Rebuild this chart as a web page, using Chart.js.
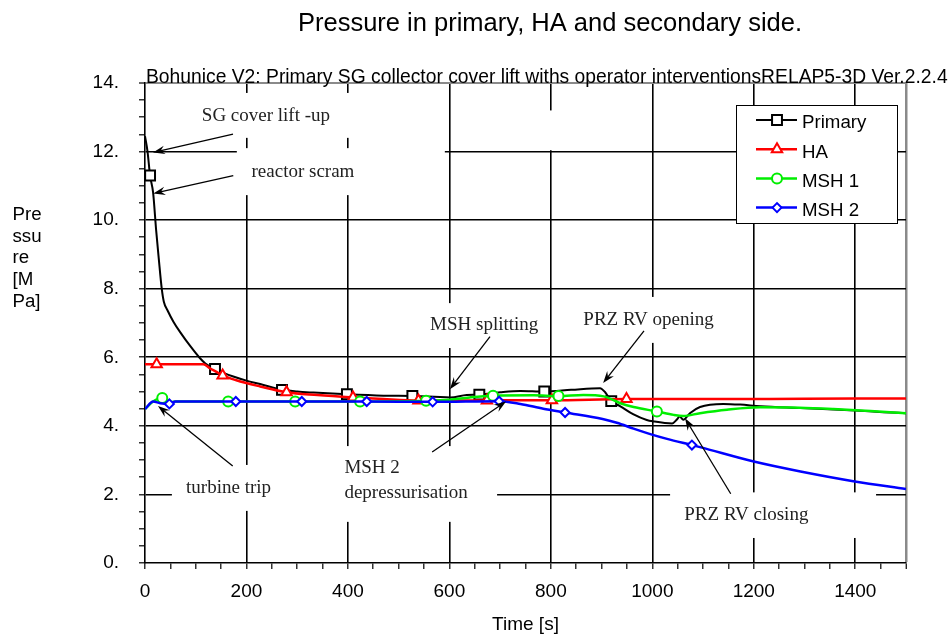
<!DOCTYPE html>
<html>
<head>
<meta charset="utf-8">
<title>Pressure in primary, HA and secondary side.</title>
<script src="https://cdn.jsdelivr.net/npm/chart.js@4.4.1/dist/chart.umd.min.js"></script>
<style>
  html, body { margin: 0; padding: 0; background: #fff; }
  #wrap { width: 951px; height: 634px; position: relative; }
</style>
</head>
<body>
<div id="wrap"><canvas id="c" width="951" height="634"></canvas></div>
<script>
// ---- Data: time [s] and pressure [MPa] for each series ----
const primaryTime = [0, 5, 10, 16, 22, 27, 33, 37, 45, 56, 70, 89, 108, 119, 138, 156, 174, 200, 227, 270, 300, 332, 398, 470, 527, 570, 602, 634, 659, 700, 740, 787, 840, 897, 907, 919, 937, 962, 989, 1002, 1039, 1048, 1054, 1061, 1074, 1094, 1140, 1173, 1213, 1292, 1400, 1455, 1500];
const primaryP    = [12.45, 12.0, 11.3, 10.8, 9.7, 8.9, 8.0, 7.63, 7.35, 7.04, 6.72, 6.33, 5.98, 5.82, 5.66, 5.54, 5.44, 5.32, 5.22, 5.05, 5.0, 4.97, 4.92, 4.88, 4.87, 4.85, 4.83, 4.9, 4.91, 4.98, 5.02, 5.0, 5.05, 5.10, 4.98, 4.72, 4.57, 4.34, 4.17, 4.13, 4.07, 4.18, 4.27, 4.18, 4.37, 4.55, 4.64, 4.62, 4.57, 4.52, 4.45, 4.40, 4.37];
const primaryMarks = [10, 138, 270, 398, 527, 659, 787, 919];

const haTime = [0, 23, 115, 128, 140, 153, 180, 227, 279, 340, 410, 470, 539, 600, 674, 740, 802, 949, 1100, 1300, 1500];
const haP    = [5.80, 5.80, 5.80, 5.68, 5.58, 5.47, 5.33, 5.15, 4.98, 4.90, 4.83, 4.78, 4.74, 4.74, 4.74, 4.75, 4.75, 4.78, 4.78, 4.79, 4.80];
const haMarks = [23, 153, 279, 410, 539, 674, 802, 949];

const msh1Time = [0, 16, 34, 48, 60, 164, 296, 424, 554, 600, 640, 686, 766, 815, 864, 904, 937, 963, 1009, 1042, 1061, 1094, 1147, 1213, 1290, 1357, 1430, 1500];
const msh1P    = [4.49, 4.71, 4.81, 4.68, 4.71, 4.71, 4.71, 4.71, 4.73, 4.76, 4.83, 4.88, 4.89, 4.87, 4.90, 4.86, 4.66, 4.55, 4.42, 4.32, 4.29, 4.37, 4.47, 4.54, 4.53, 4.49, 4.43, 4.37];
const msh1Marks = [34, 164, 296, 424, 554, 686, 815, 1009];

const msh2Time = [0, 16, 30, 48, 60, 179, 309, 437, 567, 698, 740, 785, 828, 902, 930, 963, 996, 1029, 1078, 1094, 1200, 1292, 1399, 1500];
const msh2P    = [4.49, 4.71, 4.66, 4.64, 4.71, 4.71, 4.71, 4.71, 4.70, 4.72, 4.64, 4.50, 4.39, 4.20, 4.09, 3.92, 3.76, 3.62, 3.44, 3.38, 2.96, 2.67, 2.38, 2.16];
const msh2Marks = [48, 179, 309, 437, 567, 698, 828, 1078];

const seriesNames = ['Primary', 'HA', 'MSH 1', 'MSH 2'];

// Axis ranges and tick labelling
const xMax = 1500, xMinorStep = 50, xLabelStep = 200;
const yMax = 14, yMinorStep = 0.5, yLabelStep = 2;

// Event notes: text lines, text anchor (time, pressure of first baseline), arrow tail and head
const notes = [
  { lines: ['SG cover lift -up'], t: 112, p: 12.88, from: [173.5, 12.51], to: [15.8, 11.97] },
  { lines: ['reactor scram'], t: 210, p: 11.26, from: [174, 11.30], to: [16.4, 10.78] },
  { lines: ['MSH splitting'], t: 562, p: 6.80, from: [680, 6.60], to: [601, 5.07] },
  { lines: ['PRZ RV opening'], t: 864, p: 6.95, from: [983.6, 6.77], to: [903, 5.25] },
  { lines: ['turbine trip'], t: 81, p: 2.04, from: [172.9, 2.83], to: [25.6, 4.58] },
  { lines: ['MSH 2', 'depressurisation'], t: 393, p: 2.62, from: [566, 3.24], to: [711.6, 4.71] },
  { lines: ['PRZ RV closing'], t: 1063, p: 1.26, from: [1154.5, 2.02], to: [1064.5, 4.22] }
];
// White backing boxes behind the notes: [t0, t1, pLow, pHigh]
const noteBoxes = [
  [85, 408, 12.40, 13.71],
  [181, 591, 10.73, 12.10],
  [552, 790, 6.27, 7.58],
  [848, 1143, 6.42, 7.76],
  [53, 384, 1.52, 2.86],
  [374, 694, 1.20, 3.41],
  [1035, 1441, 0.73, 2.06],
  [788, 814, 12.04, 13.2]
];

const SANS = '"Liberation Sans", Arial, Helvetica, sans-serif';
const SERIF = '"Liberation Serif", "Times New Roman", serif';

function pts(ts, ps) { return ts.map((t, i) => ({ x: t, y: ps[i] })); }
function markRadius(marks, r) {
  return c => (c.raw && marks.includes(c.raw.x)) ? r : 0;
}

const styles = [
  { color: '#000000', pointStyle: 'rect', radius: 7, width: 2, marks: primaryMarks },
  { color: '#ff0000', pointStyle: 'triangle', radius: 6, width: 2.5, marks: haMarks },
  { color: '#00ee00', pointStyle: 'circle', radius: 5, width: 2.5, marks: msh1Marks },
  { color: '#0000ff', pointStyle: 'rectRot', radius: 4.5, width: 2.5, marks: msh2Marks }
];
const seriesData = [pts(primaryTime, primaryP), pts(haTime, haP), pts(msh1Time, msh1P), pts(msh2Time, msh2P)];

const datasets = seriesData.map((d, i) => ({
  label: seriesNames[i],
  data: d,
  borderColor: styles[i].color,
  borderWidth: styles[i].width,
  backgroundColor: '#ffffff',
  pointStyle: styles[i].pointStyle,
  pointRadius: markRadius(styles[i].marks, styles[i].radius),
  pointBorderColor: styles[i].color,
  pointBackgroundColor: '#ffffff',
  pointBorderWidth: 2,
  cubicInterpolationMode: 'monotone',
  fill: false,
  order: 4 - i
}));

function arrow(ctx, x1, y1, x2, y2) {
  const a = Math.atan2(y2 - y1, x2 - x1), L = 12, W = 4.2;
  const ca = Math.cos(a), sa = Math.sin(a);
  ctx.beginPath();
  ctx.moveTo(x1, y1);
  ctx.lineTo(x2 - ca * L * 0.6, y2 - sa * L * 0.6);
  ctx.stroke();
  ctx.beginPath();
  ctx.moveTo(x2, y2);
  ctx.lineTo(x2 - L * ca + W * sa, y2 - L * sa - W * ca);
  ctx.lineTo(x2 - L * 0.65 * ca, y2 - L * 0.65 * sa);
  ctx.lineTo(x2 - L * ca - W * sa, y2 - L * sa + W * ca);
  ctx.closePath();
  ctx.fill();
}

function drawMarker(ctx, style, x, y) {
  ctx.save();
  ctx.fillStyle = '#ffffff';
  ctx.strokeStyle = style.color;
  ctx.lineWidth = 2;
  if (Chart.helpers && Chart.helpers.drawPoint) {
    Chart.helpers.drawPoint(ctx, { pointStyle: style.pointStyle, radius: style.radius, borderWidth: 2, rotation: 0 }, x, y);
  }
  ctx.restore();
}

const decorations = {
  id: 'decorations',
  beforeDatasetsDraw(chart) {
    const { ctx, scales: { x, y } } = chart;
    ctx.save();
    ctx.fillStyle = '#ffffff';
    noteBoxes.forEach(([t0, t1, p0, p1]) => {
      const X0 = x.getPixelForValue(t0), X1 = x.getPixelForValue(t1);
      const Y0 = y.getPixelForValue(p1), Y1 = y.getPixelForValue(p0);
      ctx.fillRect(X0, Y0, X1 - X0, Y1 - Y0);
    });
    ctx.restore();
  },
  afterDatasetsDraw(chart) {
    const { ctx, scales: { x, y } } = chart;
    ctx.save();
    ctx.fillStyle = '#222';
    ctx.strokeStyle = '#000';
    ctx.lineWidth = 1.3;
    ctx.font = '19px ' + SERIF;
    ctx.textAlign = 'left';
    ctx.textBaseline = 'alphabetic';
    notes.forEach(n => {
      const px = x.getPixelForValue(n.t);
      let py = y.getPixelForValue(n.p);
      n.lines.forEach((line, k) => {
        ctx.fillText(line, px, py + k * 25);
      });
      ctx.fillStyle = '#000';
      arrow(ctx, x.getPixelForValue(n.from[0]), y.getPixelForValue(n.from[1]),
                 x.getPixelForValue(n.to[0]), y.getPixelForValue(n.to[1]));
      ctx.fillStyle = '#222';
    });
    ctx.restore();
  },
  afterDraw(chart) {
    const { ctx, chartArea: a } = chart;
    ctx.save();
    ctx.fillStyle = '#000';
    ctx.textBaseline = 'alphabetic';

    // main title and run description
    ctx.font = '25.5px ' + SANS;
    ctx.textAlign = 'center';
    ctx.fillText('Pressure in primary, HA and secondary side.', 550, 31);
    ctx.font = '19.3px ' + SANS;
    ctx.textAlign = 'left';
    ctx.fillText('Bohunice V2: Primary SG collector cover lift withs operator interventionsRELAP5-3D Ver.2.2.4', a.left + 1, a.top);

    // axis titles
    ctx.font = '18.7px ' + SANS;
    ['Pre', 'ssu', 're', '[M', 'Pa]'].forEach((s, i) => ctx.fillText(s, 12.5, 220 + i * 21.7));
    ctx.textAlign = 'center';
    ctx.font = '19px ' + SANS;
    ctx.fillText('Time [s]', (a.left + a.right) / 2, 630);

    // legend
    const lx = a.right - 170, ly = a.top + 22, lw = 161, lh = 118;
    ctx.fillStyle = '#fff';
    ctx.fillRect(lx, ly, lw, lh);
    ctx.strokeStyle = '#000';
    ctx.lineWidth = 1;
    ctx.strokeRect(lx + 0.5, ly + 0.5, lw, lh);
    ctx.font = '18.7px ' + SANS;
    ctx.textAlign = 'left';
    chart.data.datasets.forEach((ds, i) => {
      const rowY = ly + 15 + i * 29.2;
      ctx.strokeStyle = ds.borderColor;
      ctx.lineWidth = ds.borderWidth;
      ctx.beginPath();
      ctx.moveTo(lx + 20, rowY);
      ctx.lineTo(lx + 61, rowY);
      ctx.stroke();
      drawMarker(ctx, styles[i], lx + 41, rowY);
      ctx.fillStyle = '#000';
      ctx.fillText(ds.label, lx + 66, rowY + 8.3);
    });
    ctx.restore();
  }
};

const isMultiple = (v, step) => Math.abs(v / step - Math.round(v / step)) < 1e-6;

new Chart(document.getElementById('c'), {
  type: 'line',
  data: { datasets },
  plugins: [decorations],
  options: {
    responsive: false,
    devicePixelRatio: 1,
    animation: false,
    events: [],
    layout: { padding: { left: 0, top: 83, right: 45, bottom: 0 } },
    plugins: { legend: { display: false }, title: { display: false }, tooltip: { enabled: false } },
    scales: {
      x: {
        type: 'linear', min: 0, max: xMax,
        afterFit: s => { s.height = 71; },
        ticks: {
          stepSize: xMinorStep, autoSkip: false, maxRotation: 0, padding: 11,
          color: '#000', font: { family: SANS, size: 19 },
          callback: v => isMultiple(v, xLabelStep) ? String(v) : ''
        },
        grid: {
          color: c => c.tick.value === xMax ? '#8a8a8a' : (c.tick.value > 0 && isMultiple(c.tick.value, xLabelStep) ? '#000' : 'rgba(0,0,0,0)'),
          lineWidth: c => c.tick.value === xMax ? 2.5 : 1.6,
          tickLength: 6, tickColor: '#000', tickWidth: 1.2
        },
        border: { color: '#000', width: 1.6 }
      },
      y: {
        type: 'linear', min: 0, max: yMax,
        afterFit: s => { s.width = 145; },
        ticks: {
          stepSize: yMinorStep, autoSkip: false, padding: 20,
          color: '#000', font: { family: SANS, size: 19 },
          callback: v => isMultiple(v, yLabelStep) ? v + '.' : ''
        },
        grid: {
          color: c => c.tick.value === yMax ? '#8a8a8a' : (c.tick.value > 0 && isMultiple(c.tick.value, yLabelStep) ? '#000' : 'rgba(0,0,0,0)'),
          lineWidth: c => c.tick.value === yMax ? 2 : 1.6,
          tickLength: 6, tickColor: '#000', tickWidth: 1.2
        },
        border: { color: '#000', width: 1.6 }
      }
    }
  }
});
</script>
</body>
</html>
